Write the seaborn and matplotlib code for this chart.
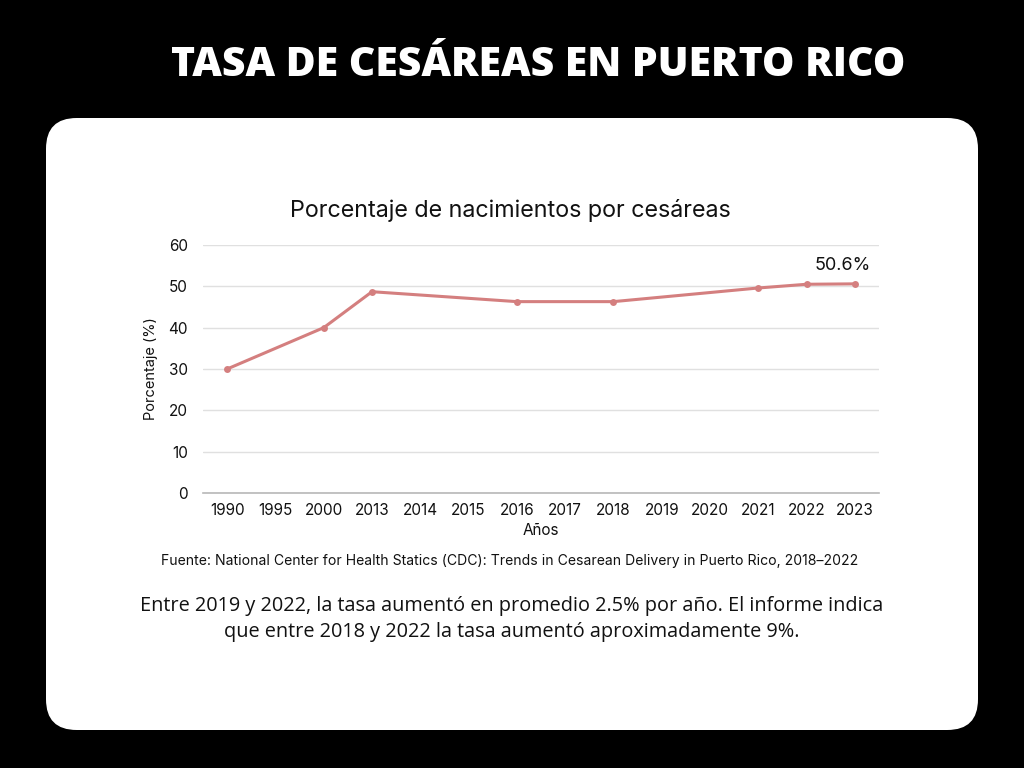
import pandas as pd
import numpy as np
import seaborn as sns
from matplotlib import pyplot as plt
from matplotlib.patches import FancyBboxPatch

# axis categories (every year shown on the x axis)
years = ['1990', '1995', '2000', '2013', '2014', '2015', '2016', '2017',
         '2018', '2019', '2020', '2021', '2022', '2023']
# years that actually have a value, and the rates
data_years = ['1990', '2000', '2013', '2016', '2018', '2021', '2022', '2023']
rates = [30.0, 40.0, 48.7, 46.3, 46.3, 49.6, 50.5, 50.6]
yticks = [0, 10, 20, 30, 40, 50, 60]

df = pd.DataFrame({'Year': data_years, 'Rate': rates})
df['pos'] = df['Year'].map({y: i for i, y in enumerate(years)})

sns.set_theme(style='white')
plt.rcParams['font.family'] = ['Inter', 'DejaVu Sans']

fig = plt.figure(figsize=(10.24, 7.68), dpi=100)
fig.patch.set_facecolor('black')

# white rounded card (behind the axes)
card = FancyBboxPatch((46 / 1024, (768 - 730) / 768), (978 - 46) / 1024, (730 - 118) / 768,
                      boxstyle='round,pad=0,rounding_size=0.03', transform=fig.transFigure,
                      facecolor='white', edgecolor='none', mutation_aspect=1024 / 768, zorder=-5)
fig.patches.append(card)

fig.text(538 / 1024, 1 - 65 / 768, 'TASA DE CESÁREAS EN PUERTO RICO', ha='center', va='center',
         color='white', fontsize=29.4, fontweight='heavy', family=['Open Sans', 'DejaVu Sans'])

ax = fig.add_axes([203 / 1024, 1 - 493 / 768, (879 - 203) / 1024, (493 - 245) / 768])
ax.set_facecolor('white')
sns.lineplot(data=df, x='pos', y='Rate', ax=ax, color='#d47f7f', linewidth=2.2,
             marker='o', markersize=5, markeredgewidth=0)

ax.set_xlim(-0.5, len(years) - 0.5)
ax.set_ylim(0, 60)
ax.set_xticks(range(len(years)))
ax.set_xticklabels(years)
ax.set_yticks(yticks)
ax.tick_params(axis='both', length=0, labelsize=11, colors='#111111')
ax.tick_params(axis='x', pad=7)
ax.tick_params(axis='y', pad=11)
ax.grid(axis='y', color='#e0e0e0', linewidth=1)
ax.set_axisbelow(True)
for s in ['top', 'right', 'left']:
    ax.spines[s].set_visible(False)
ax.spines['bottom'].set_color('#b8b8b8')
ax.spines['bottom'].set_linewidth(1.2)

ax.set_xlabel('Años', fontsize=11, color='#111111', labelpad=4)
ax.set_ylabel('Porcentaje (%)', fontsize=10.5, color='#111111', labelpad=7)

fig.text(510 / 1024, 1 - 211 / 768, 'Porcentaje de nacimientos por cesáreas',
         ha='center', va='center', fontsize=16.8, color='#111111')

last = df.iloc[-1]
ax.annotate(f"{last['Rate']:.1f}%", (last['pos'], last['Rate']), xytext=(-9, 7),
            textcoords='offset points', ha='center', va='bottom', fontsize=13, color='#111111')

fig.text(510 / 1024, 1 - 561 / 768,
         'Fuente: National Center for Health Statics (CDC): Trends in Cesarean Delivery in Puerto Rico, 2018–2022',
         ha='center', va='center', fontsize=10.1, color='#111111')

fig.text(512 / 1024, 1 - 619 / 768,
         'Entre 2019 y 2022, la tasa aumentó en promedio 2.5% por año. El informe indica\n'
         'que entre 2018 y 2022 la tasa aumentó aproximadamente 9%.',
         ha='center', va='center', fontsize=14.3, color='#111111', linespacing=1.45,
         family=['Open Sans', 'DejaVu Sans'])

fig.savefig('out.png', dpi=100, facecolor=fig.get_facecolor())
